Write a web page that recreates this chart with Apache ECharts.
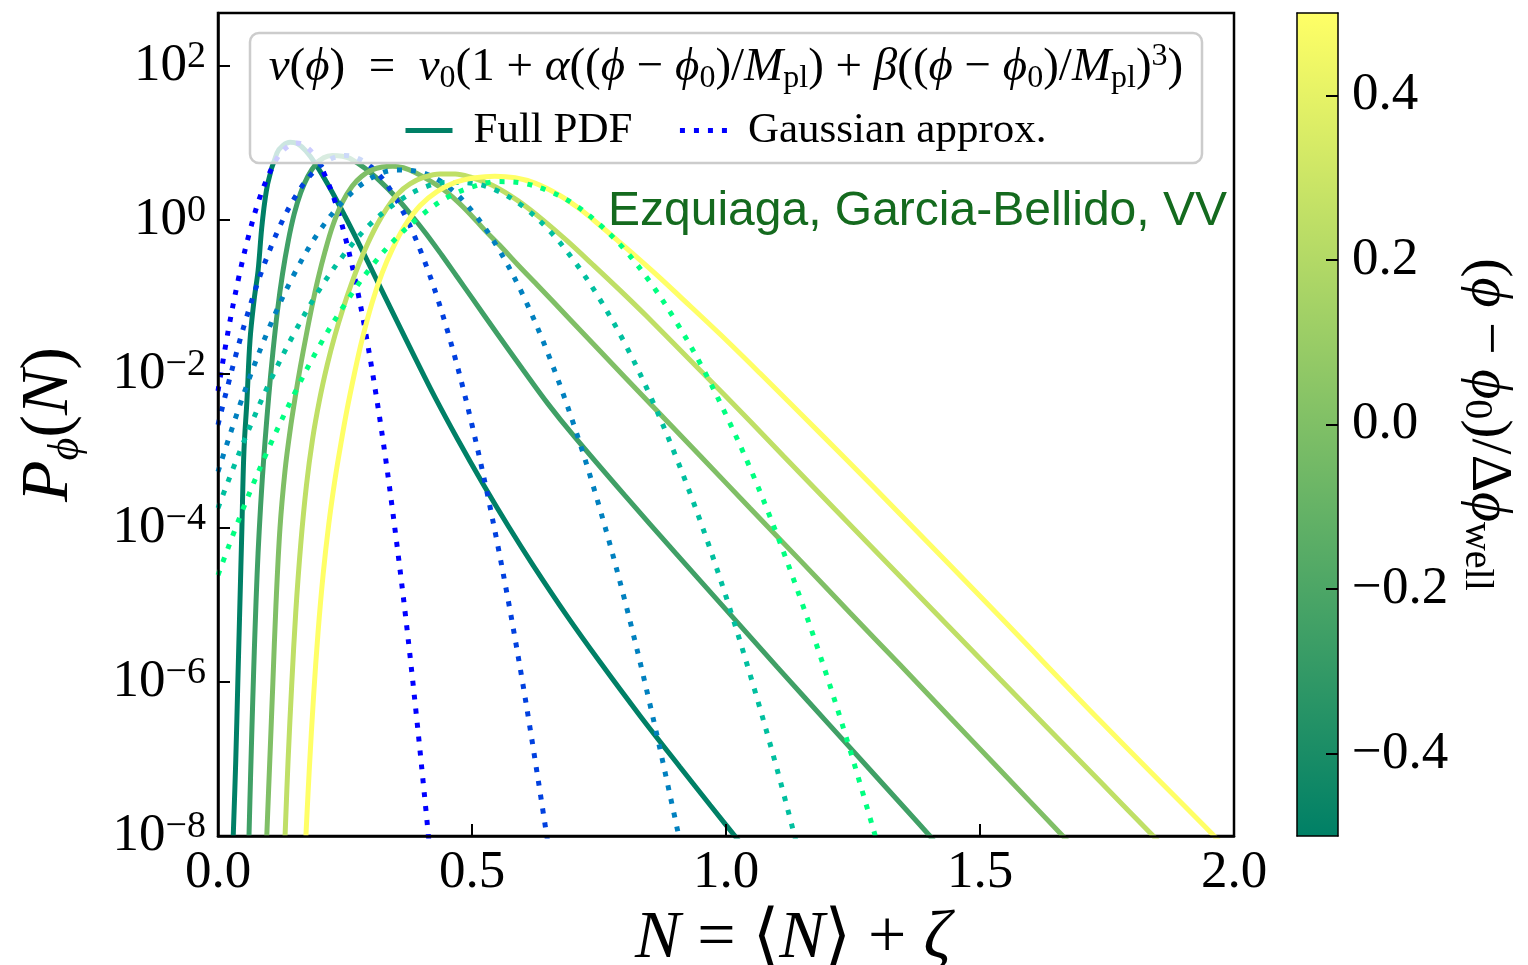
<!DOCTYPE html>
<html>
<head>
<meta charset="utf-8">
<script src="https://cdn.jsdelivr.net/npm/echarts@6/dist/echarts.min.js"></script>
<style>
html,body{margin:0;padding:0;background:#fff;}
#chart{width:1528px;height:965px;}
</style>
</head>
<body>
<div id="chart"></div>
<script>
// ---------------- DATA (x = N, second value = log10 P) ----------------
const paramValues = [-0.5, -0.25, 0, 0.25, 0.5];
const fullColors  = ['#008066', '#40a066', '#80bf66', '#bfdf66', '#ffff66'];
const gaussColors = ['#0000ff', '#0040df', '#0080bf', '#00bf9f', '#00ff80'];

const full_m050 = [[0.030,-8],[0.035,-7.01],[0.039,-6.01],[0.043,-5.01],[0.047,-4.01],[0.051,-3.01],[0.057,-2.34],[0.063,-1.56],[0.071,-1.04],[0.079,-0.65],[0.087,-0.04],[0.098,0.48],[0.116,0.87],[0.128,0.97],[0.142,1.01],[0.157,0.99],[0.173,0.90],[0.191,0.74],[0.220,0.42],[0.250,0.05],[0.280,-0.34],[0.309,-0.73],[0.352,-1.31],[0.388,-1.79],[0.427,-2.30],[0.472,-2.85],[0.522,-3.43],[0.571,-3.97],[0.620,-4.48],[0.687,-5.14],[0.752,-5.74],[0.831,-6.44],[0.909,-7.10],[0.969,-7.60],[1.026,-8.07],[1.04,-8.18]];
const full_m025 = [[0.061,-8],[0.064,-7.25],[0.067,-6.55],[0.070,-5.9],[0.073,-5.3],[0.077,-4.6],[0.081,-4.05],[0.087,-3.38],[0.093,-2.84],[0.100,-2.28],[0.108,-1.72],[0.117,-1.18],[0.127,-0.70],[0.138,-0.28],[0.150,0.08],[0.163,0.36],[0.177,0.57],[0.192,0.72],[0.208,0.81],[0.225,0.84],[0.245,0.83],[0.260,0.80],[0.290,0.67],[0.320,0.50],[0.350,0.30],[0.380,0.07],[0.410,-0.18],[0.440,-0.45],[0.470,-0.73],[0.500,-1.01],[0.550,-1.48],[0.600,-1.94],[0.650,-2.39],[0.700,-2.80],[0.800,-3.57],[0.900,-4.32],[1.000,-5.06],[1.100,-5.80],[1.200,-6.53],[1.300,-7.26],[1.400,-7.99],[1.42,-8.15]];
const full_p000 = [[0.096,-8],[0.102,-7.01],[0.108,-6.01],[0.114,-5.01],[0.122,-4.0],[0.132,-3.25],[0.142,-2.73],[0.152,-2.30],[0.162,-1.91],[0.173,-1.52],[0.185,-1.12],[0.197,-0.76],[0.211,-0.40],[0.226,-0.07],[0.244,0.22],[0.264,0.44],[0.283,0.57],[0.303,0.65],[0.323,0.69],[0.344,0.70],[0.365,0.68],[0.388,0.62],[0.415,0.52],[0.443,0.40],[0.470,0.25],[0.496,0.08],[0.525,-0.13],[0.555,-0.33],[0.590,-0.58],[0.628,-0.84],[0.693,-1.29],[0.752,-1.70],[0.850,-2.38],[0.949,-3.06],[1.047,-3.74],[1.146,-4.42],[1.244,-5.10],[1.343,-5.78],[1.441,-6.46],[1.539,-7.14],[1.663,-8.0],[1.68,-8.12]];
const full_p025 = [[0.132,-8],[0.138,-7.01],[0.145,-6.05],[0.153,-5.1],[0.163,-4.2],[0.174,-3.45],[0.186,-2.85],[0.200,-2.33],[0.215,-1.88],[0.230,-1.50],[0.246,-1.15],[0.262,-0.84],[0.278,-0.56],[0.295,-0.30],[0.313,-0.06],[0.332,0.15],[0.354,0.34],[0.378,0.47],[0.407,0.56],[0.437,0.60],[0.467,0.60],[0.496,0.56],[0.541,0.45],[0.591,0.25],[0.640,0.0],[0.689,-0.28],[0.738,-0.58],[0.791,-0.91],[0.844,-1.25],[0.949,-1.95],[1.047,-2.61],[1.114,-3.07],[1.215,-3.76],[1.343,-4.63],[1.539,-5.96],[1.736,-7.29],[1.841,-8.0],[1.86,-8.13]];
const full_p050 = [[0.173,-8],[0.180,-7.1],[0.188,-6.2],[0.197,-5.35],[0.207,-4.6],[0.218,-3.95],[0.230,-3.38],[0.242,-2.90],[0.254,-2.46],[0.268,-2.01],[0.283,-1.57],[0.303,-1.08],[0.323,-0.69],[0.343,-0.38],[0.368,-0.07],[0.398,0.19],[0.431,0.37],[0.467,0.49],[0.506,0.55],[0.545,0.57],[0.585,0.55],[0.624,0.48],[0.673,0.32],[0.713,0.14],[0.752,-0.07],[0.791,-0.29],[0.831,-0.52],[0.870,-0.75],[0.909,-0.99],[0.988,-1.48],[1.067,-1.99],[1.146,-2.51],[1.234,-3.09],[1.343,-3.82],[1.539,-5.15],[1.736,-6.50],[1.961,-8.0],[1.98,-8.13]];

const gauss_m050 = [[0,-2.22],[0.02,-1.44],[0.04,-0.77],[0.06,-0.21],[0.08,0.25],[0.10,0.59],[0.12,0.84],[0.14,0.97],[0.155,1.0],[0.17,0.97],[0.19,0.84],[0.21,0.59],[0.23,0.25],[0.25,-0.21],[0.27,-0.77],[0.29,-1.44],[0.31,-2.22],[0.33,-3.10],[0.35,-4.10],[0.37,-5.19],[0.39,-6.40],[0.41,-7.71],[0.42,-8.41]];
const gauss_m025 = [[0,-2.66],[0.05,-1.40],[0.10,-0.42],[0.15,0.28],[0.20,0.70],[0.25,0.84],[0.30,0.70],[0.35,0.28],[0.40,-0.42],[0.45,-1.40],[0.50,-2.66],[0.55,-4.20],[0.60,-6.02],[0.65,-8.12]];
const gauss_p000 = [[0,-3.27],[0.05,-2.27],[0.10,-1.41],[0.15,-0.70],[0.20,-0.14],[0.25,0.27],[0.30,0.54],[0.35,0.65],[0.40,0.62],[0.45,0.45],[0.50,0.12],[0.55,-0.35],[0.60,-0.97],[0.65,-1.74],[0.70,-2.65],[0.75,-3.71],[0.80,-4.92],[0.85,-6.28],[0.90,-7.78],[0.91,-8.10]];
const gauss_p025 = [[0,-3.74],[0.05,-2.89],[0.10,-2.13],[0.15,-1.47],[0.20,-0.90],[0.25,-0.43],[0.30,-0.05],[0.35,0.22],[0.40,0.41],[0.45,0.49],[0.50,0.48],[0.55,0.38],[0.60,0.18],[0.65,-0.12],[0.70,-0.52],[0.75,-1.01],[0.80,-1.59],[0.85,-2.27],[0.90,-3.05],[0.95,-3.92],[1.00,-4.89],[1.05,-5.96],[1.10,-7.12],[1.15,-8.38]];
const gauss_p050 = [[0,-4.61],[0.05,-3.74],[0.10,-2.96],[0.15,-2.26],[0.20,-1.63],[0.25,-1.09],[0.30,-0.62],[0.35,-0.24],[0.40,0.06],[0.45,0.29],[0.50,0.43],[0.55,0.50],[0.60,0.48],[0.65,0.38],[0.70,0.21],[0.75,-0.05],[0.80,-0.38],[0.85,-0.80],[0.90,-1.30],[0.95,-1.87],[1.00,-2.53],[1.05,-3.26],[1.10,-4.08],[1.15,-4.98],[1.20,-5.95],[1.25,-7.01],[1.30,-8.14]];

const fullCurves  = [full_m050, full_m025, full_p000, full_p025, full_p050];
const gaussCurves = [gauss_m050, gauss_m025, gauss_p000, gauss_p025, gauss_p050];

const xTicks = [0, 0.5, 1.0, 1.5, 2.0];
const yTickExponents = [-8, -6, -4, -2, 0, 2];
const yMaxValue = 490;           // top of the plotted range
const cbTicks = [-0.4, -0.2, 0.0, 0.2, 0.4];
const cbRange = [-0.5, 0.5];
const cbColors = ['#008066', '#ffff66'];

// ---------------- CHART ----------------
const SERIF = "'Liberation Serif', 'DejaVu Serif', serif";
const chart = echarts.init(document.getElementById('chart'), null, {renderer: 'canvas'});

const SOLID_W = 5, DOT_W = 5, DOT_DASH = [5, 9];
const toP = arr => arr.map(([x, l]) => [x, Math.pow(10, l)]);
const series = [];
for (let i = 0; i < fullCurves.length; i++) {
  series.push({
    type: 'line', name: 'Full PDF', xAxisIndex: 0, yAxisIndex: 0,
    data: toP(fullCurves[i]), showSymbol: false, symbol: 'none',
    smooth: 0.35, clip: true, silent: true,
    lineStyle: {color: fullColors[i], width: SOLID_W, cap: 'butt'}, itemStyle: {color: fullColors[i]}, z: 2
  });
  series.push({
    type: 'line', name: 'Gaussian approx.', xAxisIndex: 0, yAxisIndex: 0,
    data: toP(gaussCurves[i]), showSymbol: false, symbol: 'none',
    smooth: 0.35, clip: true, silent: true,
    lineStyle: {color: gaussColors[i], width: DOT_W, type: DOT_DASH, cap: 'butt'}, itemStyle: {color: gaussColors[i]}, z: 2
  });
}
// colorbar gradient
series.push({
  type: 'custom', xAxisIndex: 1, yAxisIndex: 1, silent: true, z: 1,
  data: [[0, 1, cbRange[0], cbRange[1]]],
  renderItem: function (params, api) {
    const a = api.coord([api.value(0), api.value(3)]);
    const b = api.coord([api.value(1), api.value(2)]);
    return {
      type: 'rect',
      shape: {x: a[0], y: a[1], width: b[0] - a[0], height: b[1] - a[1]},
      style: {fill: new echarts.graphic.LinearGradient(0, 1, 0, 0, [
        {offset: 0, color: cbColors[0]}, {offset: 1, color: cbColors[1]}])}
    };
  }
});

const minus = v => (v < 0 ? '\u2212' : '') + Math.abs(v);

const option = {
  animation: false,
  backgroundColor: '#ffffff',
  grid: [
    {left: 218, top: 13, width: 1016, height: 823, show: true, borderColor: '#000', borderWidth: 2.5, backgroundColor: 'transparent', outerBoundsMode: 'none', containLabel: false},
    {left: 1297, top: 13, width: 41, height: 823, show: false, outerBoundsMode: 'none', containLabel: false}
  ],
  xAxis: [
    {
      gridIndex: 0, type: 'value', min: xTicks[0], max: xTicks[xTicks.length - 1], interval: 0.5,
      axisLine: {show: true, onZero: false, lineStyle: {color: '#000', width: 2.5}},
      axisTick: {show: true, inside: true, length: 12, lineStyle: {color: '#000', width: 2}},
      axisLabel: {show: true, margin: 11, color: '#000', fontFamily: SERIF, fontSize: 53, formatter: v => v.toFixed(1)},
      splitLine: {show: false}, z: 10,
      name: '{i|N}{r| = \u27E8}{i|N}{r|\u27E9 + }{i|\u03B6}',
      nameLocation: 'middle', nameGap: 58,
      nameTextStyle: {padding: [0, 0, 0, 134], rich: {
        i: {fontFamily: SERIF, fontStyle: 'italic', fontSize: 68, color: '#000'},
        r: {fontFamily: SERIF, fontSize: 68, color: '#000'}
      }}
    },
    {
      gridIndex: 1, type: 'value', min: 0, max: 1, show: true,
      axisLine: {show: true, onZero: false, lineStyle: {color: '#000', width: 1.5}},
      axisTick: {show: false}, axisLabel: {show: false}, splitLine: {show: false}, z: 10
    },
    {
      gridIndex: 1, type: 'value', min: 0, max: 1, position: 'top', show: true,
      axisLine: {show: true, onZero: false, lineStyle: {color: '#000', width: 1.5}},
      axisTick: {show: false}, axisLabel: {show: false}, splitLine: {show: false}, z: 10
    }
  ],
  yAxis: [
    {
      gridIndex: 0, type: 'log', logBase: 10, min: Math.pow(10, yTickExponents[0]), max: yMaxValue,
      axisLine: {show: true, onZero: false, lineStyle: {color: '#000', width: 2.5}},
      axisTick: {show: true, inside: true, length: 12, lineStyle: {color: '#000', width: 2},
        customValues: yTickExponents.map(e => Math.pow(10, e))},
      minorTick: {show: false},
      axisLabel: {
        show: true, margin: 12, color: '#000',
        customValues: yTickExponents.map(e => Math.pow(10, e)),
        formatter: function (v) {
          const e = Math.round(Math.log10(v));
          return '{b|10}{s|' + minus(e) + '}';
        },
        rich: {
          b: {fontFamily: SERIF, fontSize: 53, lineHeight: 56, color: '#000'},
          s: {fontFamily: SERIF, fontSize: 38, lineHeight: 30, verticalAlign: 'top', color: '#000'}
        }
      },
      splitLine: {show: false}, z: 10,
      name: '{i|P}{sub|\u03D5}{r|(}{i|N}{r|)}',
      nameLocation: 'middle', nameGap: 130, nameRotate: 90,
      nameTextStyle: {rich: {
        i: {fontFamily: SERIF, fontStyle: 'italic', fontSize: 68, lineHeight: 78, color: '#000'},
        r: {fontFamily: SERIF, fontSize: 68, lineHeight: 78, color: '#000'},
        sub: {fontFamily: SERIF, fontStyle: 'italic', fontSize: 44, lineHeight: 40, verticalAlign: 'bottom', color: '#000'}
      }}
    },
    {
      gridIndex: 1, type: 'value', min: cbRange[0], max: cbRange[1], position: 'right',
      axisLine: {show: true, onZero: false, lineStyle: {color: '#000', width: 1.5}},
      axisTick: {show: true, inside: true, length: 12, lineStyle: {color: '#000', width: 2}, customValues: cbTicks},
      axisLabel: {show: true, margin: 14, color: '#000', fontFamily: SERIF, fontSize: 53,
        customValues: cbTicks, formatter: v => (v < 0 ? '\u2212' : '') + Math.abs(v).toFixed(1)},
      splitLine: {show: false}, z: 10,
      name: '{r|(}{i|\u03D5}{r| \u2212 }{i|\u03D5}{sub|0}{r|)/\u0394}{i|\u03D5}{sub|well}',
      nameLocation: 'middle', nameGap: 118, nameRotate: -90,
      nameTextStyle: {rich: {
        i: {fontFamily: SERIF, fontStyle: 'italic', fontSize: 58, lineHeight: 64, color: '#000'},
        r: {fontFamily: SERIF, fontSize: 58, lineHeight: 64, color: '#000'},
        sub: {fontFamily: SERIF, fontSize: 40, lineHeight: 38, verticalAlign: 'bottom', color: '#000'}
      }}
    },
    {
      gridIndex: 1, type: 'value', min: cbRange[0], max: cbRange[1], position: 'left',
      axisLine: {show: true, onZero: false, lineStyle: {color: '#000', width: 1.5}},
      axisTick: {show: false}, axisLabel: {show: false}, splitLine: {show: false}, z: 10
    }
  ],
  legend: {
    show: true, left: 398, top: 104, orient: 'horizontal', z: 20,
    itemWidth: 47, itemHeight: 14, itemGap: 45,
    data: [
      {name: 'Full PDF', lineStyle: {width: SOLID_W, color: fullColors[0]}},
      {name: 'Gaussian approx.', lineStyle: {width: DOT_W, color: gaussColors[0], type: DOT_DASH}}
    ],
    itemStyle: {color: 'rgba(0,0,0,0)', borderWidth: 0, opacity: 0},
    textStyle: {fontFamily: SERIF, fontSize: 43, color: '#000', padding: [0, 0, 0, 16]},
    selectedMode: false
  },
  graphic: [
    {type: 'rect', z: 15, silent: true,
      shape: {x: 250, y: 33, width: 952, height: 130, r: 9},
      style: {fill: 'rgba(255,255,255,0.8)', stroke: '#cccccc', lineWidth: 2.5}},
    {type: 'text', z: 16, silent: true, x: 726, y: 68,
      style: {
        text: '{i|v}{r|(}{i|\u03D5}{r|)  =  }{i|v}{sub|0}{r|(1 + }{i|\u03B1}{r|((}{i|\u03D5}{r| \u2212 }{i|\u03D5}{sub|0}{r|)/}{i|M}{sub|pl}{r|) + }{i|\u03B2}{r|((}{i|\u03D5}{r| \u2212 }{i|\u03D5}{sub|0}{r|)/}{i|M}{sub|pl}{r|)}{sup|3}{r|)}',
        align: 'center', verticalAlign: 'middle',
        rich: {
          i: {fontFamily: SERIF, fontStyle: 'italic', fontSize: 47, lineHeight: 54, fill: '#000'},
          r: {fontFamily: SERIF, fontSize: 47, lineHeight: 54, fill: '#000'},
          sub: {fontFamily: SERIF, fontSize: 32, lineHeight: 36, verticalAlign: 'bottom', fill: '#000'},
          sup: {fontFamily: SERIF, fontSize: 32, lineHeight: 36, verticalAlign: 'top', fill: '#000'}
        }
      }},
    {type: 'text', z: 16, silent: true, x: 608, y: 188,
      style: {text: 'Ezquiaga, Garcia-Bellido, VV', fontFamily: "'Liberation Sans', Arial, sans-serif",
        fontSize: 48, fill: '#146a1e', align: 'left', verticalAlign: 'top'}}
  ],
  series: series
};
chart.setOption(option);
</script>
</body>
</html>
